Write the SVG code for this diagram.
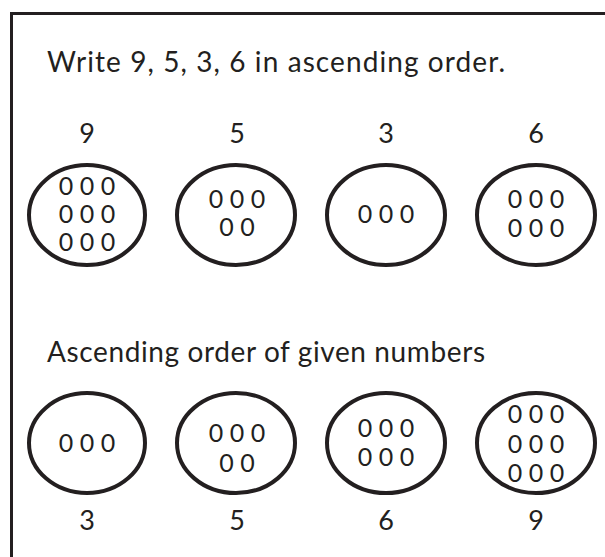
<svg xmlns="http://www.w3.org/2000/svg" width="605" height="557" viewBox="0 0 605 557">
<style>
text{font-family:Lato,"Open Sans","Liberation Sans",sans-serif;fill:#231f20}
.t{font-size:28px}
.n{font-size:27px;text-anchor:middle}
.z{font-size:25px;text-anchor:middle}
ellipse{fill:#fff;stroke:#231f20;stroke-width:4}
</style>
<rect x="11.5" y="13.5" width="600" height="560" fill="#fff" stroke="#231f20" stroke-width="3"/>
<text class="t" x="47" y="72" textLength="458">Write 9, 5, 3, 6 in ascending order.</text>
<g id="top9"><text class="n" x="87" y="143">9</text><ellipse cx="87" cy="215" rx="58" ry="50"/><text class="z" x="87" y="195">0 0 0</text><text class="z" x="87" y="223">0 0 0</text><text class="z" x="87" y="251">0 0 0</text></g>
<g id="top5"><text class="n" x="237" y="143">5</text><ellipse cx="236" cy="215" rx="59" ry="50"/><text class="z" x="237" y="208">0 0 0</text><text class="z" x="237" y="236">0 0</text></g>
<g id="top3"><text class="n" x="386" y="143">3</text><ellipse cx="386" cy="215" rx="59" ry="50"/><text class="z" x="386" y="223">0 0 0</text></g>
<g id="top6"><text class="n" x="536" y="143">6</text><ellipse cx="536" cy="215" rx="59" ry="50"/><text class="z" x="536" y="208">0 0 0</text><text class="z" x="536" y="237">0 0 0</text></g>
<text class="t" x="47" y="362" textLength="438">Ascending order of given numbers</text>
<g id="bot3"><ellipse cx="87" cy="443" rx="58" ry="50"/><text class="z" x="87" y="452">0 0 0</text><text class="n" x="87" y="530">3</text></g>
<g id="bot5"><ellipse cx="236" cy="443" rx="59" ry="50"/><text class="z" x="237" y="442">0 0 0</text><text class="z" x="237" y="472">0 0</text><text class="n" x="237" y="530">5</text></g>
<g id="bot6"><ellipse cx="386" cy="443" rx="59" ry="50"/><text class="z" x="386" y="437">0 0 0</text><text class="z" x="386" y="466">0 0 0</text><text class="n" x="386" y="530">6</text></g>
<g id="bot9"><ellipse cx="536" cy="443" rx="59" ry="50"/><text class="z" x="536" y="423">0 0 0</text><text class="z" x="536" y="453">0 0 0</text><text class="z" x="536" y="482">0 0 0</text><text class="n" x="536" y="530">9</text></g>
<g id="connectors"/>
</svg>
